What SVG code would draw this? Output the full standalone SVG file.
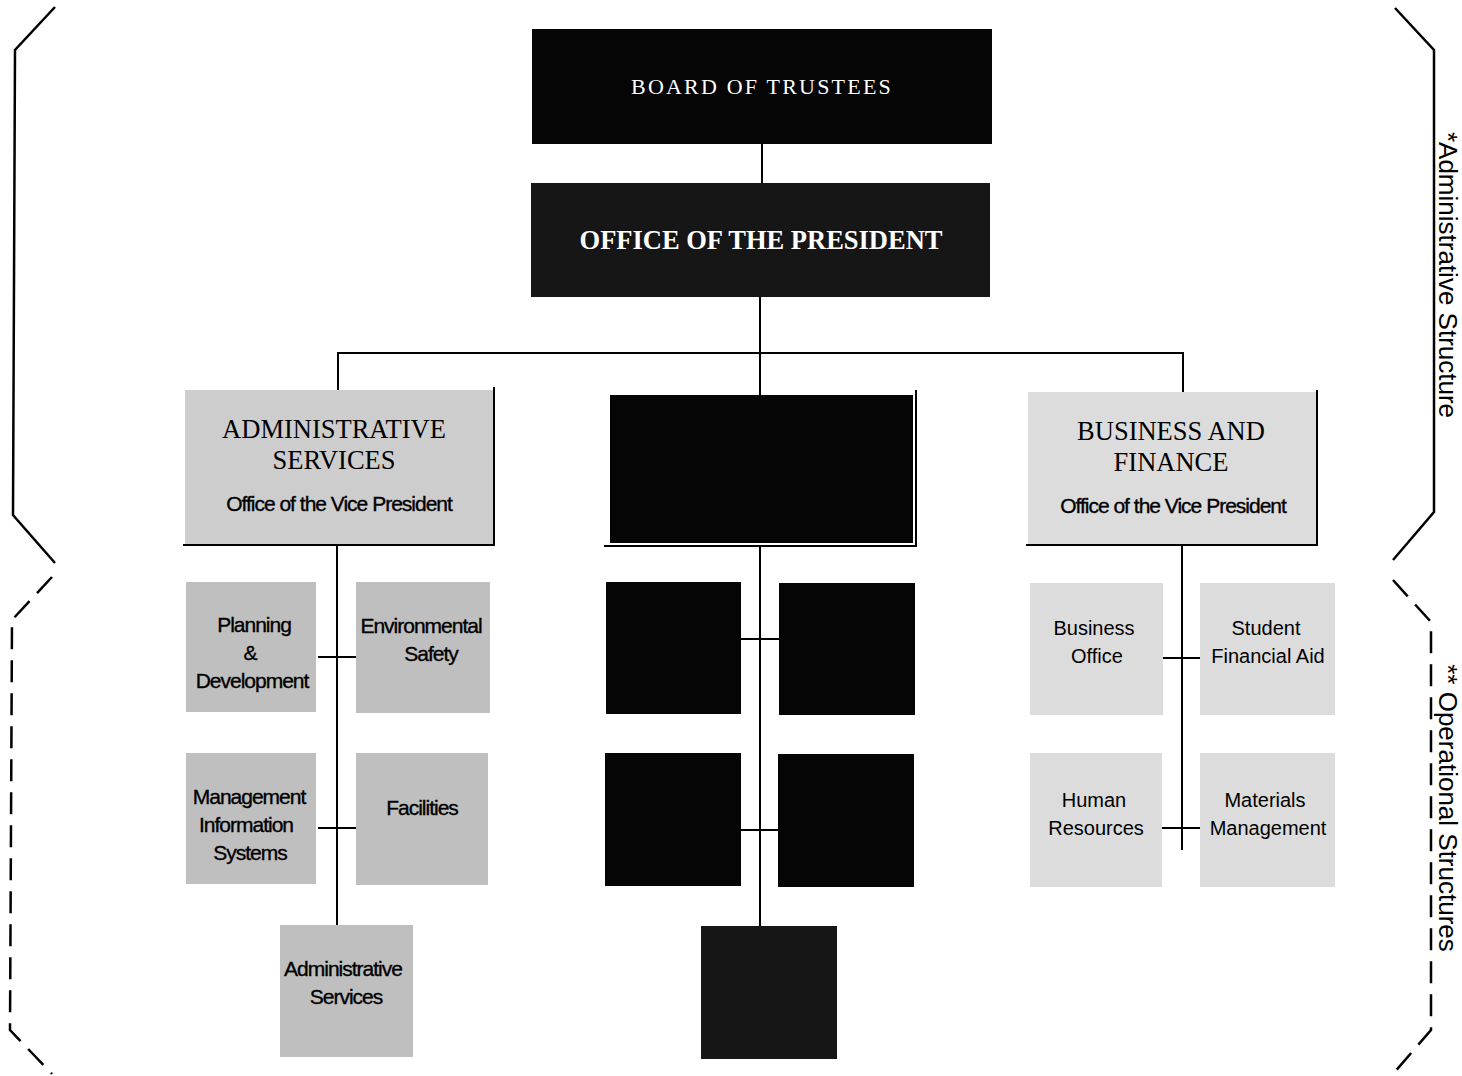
<svg xmlns="http://www.w3.org/2000/svg" width="1462" height="1076" viewBox="0 0 1462 1076">
<style>
.bg{fill:#fff}
.blk{fill:#050505}
.dark{fill:#161616}
.g1{fill:#cdcdcd}
.g2{fill:#bfbfbf}
.g3{fill:#dcdcdc}
.ln{stroke:#000;stroke-width:2;fill:none}
.br{stroke:#000;stroke-width:2.5;fill:none}
.dbr{stroke:#000;stroke-width:2.5;fill:none;stroke-dasharray:22 11}
.ser{font-family:"Liberation Serif",serif;fill:#000;text-anchor:middle}
.wser{font-family:"Liberation Serif",serif;fill:#fff;text-anchor:middle}
.nar{font-family:"Liberation Sans",Arial,sans-serif;font-size:21px;letter-spacing:-1px;fill:#000;stroke:#000;stroke-width:0.35;text-anchor:middle}
.san{font-family:"Liberation Sans",Arial,sans-serif;font-size:20px;fill:#000;text-anchor:middle}
.side{font-family:"Liberation Sans",Arial,sans-serif;font-size:26px;fill:#000;text-anchor:middle}
</style>
<rect class="bg" width="1462" height="1076"/>

<g id="brackets">
<polyline class="br" points="55,7 15,50 13,515 55,563"/>
<polyline class="br" points="1395,8 1434,50 1434,512 1393,560"/>
<polyline class="dbr" points="52,577 12,620 10,1030 52,1074"/>
<polyline class="dbr" points="1393,580 1431,622 1431,1030 1393,1074"/>
<text class="side" transform="translate(1439,275) rotate(90)">*Administrative Structure</text>
<text class="side" transform="translate(1439,808) rotate(90)">** Operational Structures</text>
</g>

<g id="connectors">
<line class="ln" x1="762" y1="144" x2="762" y2="183"/>
<line class="ln" x1="760" y1="297" x2="760" y2="395"/>
<line class="ln" x1="337" y1="353" x2="1184" y2="353"/>
<line class="ln" x1="338" y1="353" x2="338" y2="390"/>
<line class="ln" x1="1183" y1="353" x2="1183" y2="392"/>
<line class="ln" x1="337" y1="545" x2="337" y2="925"/>
<line class="ln" x1="318" y1="657" x2="356" y2="657"/>
<line class="ln" x1="318" y1="828" x2="356" y2="828"/>
<line class="ln" x1="760" y1="546" x2="760" y2="926"/>
<line class="ln" x1="741" y1="639" x2="779" y2="639"/>
<line class="ln" x1="741" y1="830" x2="778" y2="830"/>
<line class="ln" x1="1182" y1="545" x2="1182" y2="850"/>
<line class="ln" x1="1163" y1="658" x2="1200" y2="658"/>
<line class="ln" x1="1162" y1="828" x2="1200" y2="828"/>
</g>

<g id="board">
<rect class="blk" x="532" y="29" width="460" height="115"/>
<text class="wser" x="762" y="94" font-size="22" letter-spacing="2.2">BOARD OF TRUSTEES</text>
</g>

<g id="president">
<rect class="dark" x="531" y="183" width="459" height="114"/>
<text class="wser" x="761" y="249" font-size="26.5" font-weight="bold">OFFICE OF THE PRESIDENT</text>
</g>

<g id="vp-admin">
<rect class="g1" x="185" y="390" width="308" height="154"/>
<polyline class="ln" points="494,387 494,545 183,545"/>
<text class="ser" x="334" y="438" font-size="26.5">ADMINISTRATIVE</text>
<text class="ser" x="334" y="469" font-size="26.5">SERVICES</text>
<text class="nar" x="339" y="511" font-size="22">Office of the Vice President</text>
</g>

<g id="vp-center">
<rect class="blk" x="610" y="395" width="303" height="148"/>
<polyline class="ln" points="916,390 916,546 604,546"/>
</g>

<g id="vp-business">
<rect class="g3" x="1028" y="392" width="288" height="152"/>
<polyline class="ln" points="1317,390 1317,545 1026,545"/>
<text class="ser" x="1171" y="440" font-size="26.5">BUSINESS AND</text>
<text class="ser" x="1171" y="471" font-size="26.5">FINANCE</text>
<text class="nar" x="1173" y="513" font-size="22">Office of the Vice President</text>
</g>

<g id="planning">
<rect class="g2" x="186" y="582" width="130" height="130"/>
<text class="nar" x="254" y="632">Planning</text>
<text class="nar" x="250" y="660">&amp;</text>
<text class="nar" x="252" y="688">Development</text>
</g>
<g id="env-safety">
<rect class="g2" x="356" y="582" width="134" height="131"/>
<text class="nar" x="421" y="633">Environmental</text>
<text class="nar" x="431" y="661">Safety</text>
</g>
<g id="mis">
<rect class="g2" x="186" y="753" width="130" height="131"/>
<text class="nar" x="249" y="804">Management</text>
<text class="nar" x="246" y="832">Information</text>
<text class="nar" x="250" y="860">Systems</text>
</g>
<g id="facilities">
<rect class="g2" x="356" y="753" width="132" height="132"/>
<text class="nar" x="422" y="815">Facilities</text>
</g>
<g id="admin-services">
<rect class="g2" x="280" y="925" width="133" height="132"/>
<text class="nar" x="343" y="976">Administrative</text>
<text class="nar" x="346" y="1004">Services</text>
</g>

<g id="c1"><rect class="blk" x="606" y="582" width="135" height="132"/></g>
<g id="c2"><rect class="blk" x="779" y="583" width="136" height="132"/></g>
<g id="c3"><rect class="blk" x="605" y="753" width="136" height="133"/></g>
<g id="c4"><rect class="blk" x="778" y="754" width="136" height="133"/></g>
<g id="c5"><rect class="dark" x="701" y="926" width="136" height="133"/></g>

<g id="business-office">
<rect class="g3" x="1030" y="583" width="133" height="132"/>
<text class="san" x="1094" y="635">Business</text>
<text class="san" x="1097" y="663">Office</text>
</g>
<g id="financial-aid">
<rect class="g3" x="1200" y="583" width="135" height="132"/>
<text class="san" x="1266" y="635">Student</text>
<text class="san" x="1268" y="663">Financial Aid</text>
</g>
<g id="human-resources">
<rect class="g3" x="1030" y="753" width="132" height="134"/>
<text class="san" x="1094" y="807">Human</text>
<text class="san" x="1096" y="835">Resources</text>
</g>
<g id="materials">
<rect class="g3" x="1200" y="753" width="135" height="134"/>
<text class="san" x="1265" y="807">Materials</text>
<text class="san" x="1268" y="835">Management</text>
</g>
</svg>
